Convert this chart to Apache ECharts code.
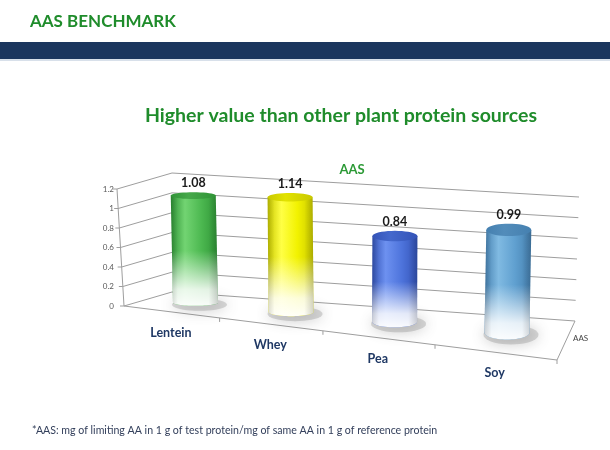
<!DOCTYPE html>
<html>
<head>
<meta charset="utf-8">
<title>AAS Benchmark</title>
<script src="https://cdn.jsdelivr.net/npm/echarts@6/dist/echarts.min.js"></script>
<style>
html,body{margin:0;padding:0;background:#fff;}
#main{width:610px;height:450px;}
</style>
</head>
<body>
<div id="main"></div>
<script>
var categories = ['Lentein', 'Whey', 'Pea', 'Soy'];
var aasValues = [1.08, 1.14, 0.84, 0.99];
var yTicks = [0, 0.2, 0.4, 0.6, 0.8, 1, 1.2];
var seriesName = 'AAS';

var barColors = [
    {edge: '#2f9436', light: '#72d472', mid: '#4cb850', top: '#46a84a'},
    {edge: '#c9c900', light: '#ffff45', mid: '#f2f200', top: '#e2e200'},
    {edge: '#3454b8', light: '#6d91f0', mid: '#4e74dc', top: '#4468cc'},
    {edge: '#4580b0', light: '#80bae2', mid: '#60a0d0', top: '#528cba'}
];
var green = '#1f8c2b';
var gridColor = '#9e9e9e';

// corners of the 3d box on screen (front/back, left/right, bottom/top)
var box = {
    flb: [124, 306], flt: [117, 189], frb: [557, 360], frt: [559, 232],
    blb: [172, 292], blt: [172, 173], brb: [575, 321], brt: [579, 197]
};
var warp = 0.85;      // perspective squeeze along the category direction
var barDepth = 0.55;
var barHalfDepth = 0.19;
var barRadius = 22.5;

function mix(p, q, t) {
    return [p[0] + (q[0] - p[0]) * t, p[1] + (q[1] - p[1]) * t];
}
function proj(u, v, d) {
    var w = u * warp / (1 + (warp - 1) * u);
    var front = mix(mix(box.flb, box.frb, w), mix(box.flt, box.frt, w), v);
    var back = mix(mix(box.blb, box.brb, w), mix(box.blt, box.brt, w), v);
    return mix(front, back, d);
}
function arcPts(cx, cy, rx, ry, a0, a1, n) {
    var pts = [];
    for (var k = 0; k <= n; k++) {
        var a = a0 + (a1 - a0) * k / n;
        pts.push([cx + rx * Math.cos(a), cy + ry * Math.sin(a)]);
    }
    return pts;
}
function normU(cs, px) { return (px - cs.x) / cs.width; }
function normV(cs, py) { return (cs.y + cs.height - py) / cs.height; }

function renderFrame(params, api) {
    var cs = params.coordSys;
    var v = normV(cs, api.coord([0, api.value(1)])[1]);
    var a = proj(0, v, 0), b = proj(0, v, 1), c = proj(1, v, 1);
    var line = {stroke: gridColor, lineWidth: 1, fill: 'none'};
    var children = [
        {type: 'polyline', shape: {points: [a, b, c]}, style: line},
        {type: 'line', shape: {x1: a[0] - 4, y1: a[1], x2: a[0], y2: a[1]}, style: line}
    ];
    if (params.dataIndex === 0) {
        var fl = proj(0, 0, 0), fr = proj(1, 0, 0), br = proj(1, 0, 1), tl = proj(0, 1, 0);
        children.push({type: 'polyline', shape: {points: [tl, fl, fr, br]}, style: line});
        for (var k = 1; k <= categories.length; k++) {
            var p = proj(k / categories.length, 0, 0);
            children.push({type: 'line', shape: {x1: p[0], y1: p[1], x2: p[0], y2: p[1] + 4}, style: line});
        }
        var m = mix(fr, br, 0.5);
        children.push({type: 'text', x: m[0] + 7, y: m[1] - 2, style: {
            text: seriesName, fontSize: 8, fontFamily: 'Lato', fill: '#444',
            align: 'left', verticalAlign: 'middle'
        }});
        for (var i = 0; i < categories.length; i++) {
            var q = proj(normU(cs, api.coord([i, 0])[0]), 0, 0);
            children.push({type: 'text', x: q[0], y: q[1] + 21, style: {
                text: categories[i], font: 'bold 12.5px Lato, sans-serif',
                fill: '#1f3864', align: 'center', verticalAlign: 'middle'
            }});
        }
    }
    return {type: 'group', children: children};
}

function renderBar(params, api) {
    var cs = params.coordSys;
    var i = api.value(0);
    var val = api.value(1);
    var u = normU(cs, api.coord([i, 0])[0]);
    var v = normV(cs, api.coord([i, val])[1]);
    var col = barColors[i];
    var pb = proj(u, 0, barDepth), pt = proj(u, v, barDepth);
    var ryb = (proj(u, 0, barDepth - barHalfDepth)[1] - proj(u, 0, barDepth + barHalfDepth)[1]) / 2;
    var ryt = (proj(u, v, barDepth - barHalfDepth)[1] - proj(u, v, barDepth + barHalfDepth)[1]) / 2;
    var r = barRadius;

    var body = [[pt[0] - r, pt[1]]].concat(arcPts(pb[0], pb[1], r, ryb, Math.PI, 0, 30), [[pt[0] + r, pt[1]]]);
    var topEl = arcPts(pt[0], pt[1], r, ryt, 0, Math.PI * 2, 40);
    var shadow = arcPts(pb[0] + 4, pb[1] + 2, r + 5, ryb + 3, 0, Math.PI * 2, 40);

    return {
        type: 'group',
        children: [
            {type: 'polygon', shape: {points: shadow}, style: {
                fill: 'rgba(130,130,130,0.3)', shadowBlur: 14, shadowColor: 'rgba(90,90,90,1)'
            }},
            {type: 'polygon', shape: {points: body}, style: {
                fill: {type: 'linear', x: 0, y: 0, x2: 1, y2: 0, colorStops: [
                    {offset: 0, color: col.edge}, {offset: 0.3, color: col.light},
                    {offset: 0.65, color: col.mid}, {offset: 1, color: col.edge}
                ]}
            }},
            {type: 'polygon', shape: {points: body}, style: {
                fill: {type: 'linear', x: 0, y: 0, x2: 0, y2: 1, colorStops: [
                    {offset: 0, color: 'rgba(255,255,255,0)'}, {offset: 0.5, color: 'rgba(255,255,255,0)'},
                    {offset: 0.85, color: 'rgba(255,255,255,0.85)'}, {offset: 1, color: 'rgba(255,255,255,0.97)'}
                ]}
            }},
            {type: 'polygon', shape: {points: body}, style: {
                fill: {type: 'linear', x: 0, y: 0, x2: 1, y2: 0, colorStops: [
                    {offset: 0, color: 'rgba(0,0,0,0.14)'}, {offset: 0.15, color: 'rgba(0,0,0,0)'},
                    {offset: 0.8, color: 'rgba(0,0,0,0)'}, {offset: 1, color: 'rgba(0,0,0,0.16)'}
                ]}
            }},
            {type: 'polygon', shape: {points: topEl}, style: {
                fill: {type: 'linear', x: 0, y: 0, x2: 1, y2: 0, colorStops: [
                    {offset: 0, color: col.edge}, {offset: 0.4, color: col.top}, {offset: 1, color: col.edge}
                ]}
            }},
            {type: 'text', x: pt[0], y: pt[1] - ryt - 9, style: {
                text: String(val), font: 'bold 12.5px Lato, sans-serif',
                fill: '#1a1a1a', align: 'center', verticalAlign: 'middle'
            }}
        ]
    };
}

var dom = document.getElementById('main');
var myChart = echarts.init(dom);
var option = null;

var frameData = [];
for (var k = 0; k < yTicks.length; k++) {
    frameData.push([0, yTicks[k]]);
}
var barData = [];
for (var j = 0; j < aasValues.length; j++) {
    barData.push([j, aasValues[j]]);
}

option = {
    backgroundColor: '#fff',
    animation: false,
    graphic: [
        {type: 'rect', left: 0, top: 42, shape: {width: 610, height: 17}, style: {fill: '#1b365e'}},
        {type: 'rect', left: 0, top: 59, shape: {width: 610, height: 2}, style: {fill: '#d8e0ea'}},
        {type: 'text', x: 30, y: 22, style: {
            text: 'AAS BENCHMARK', font: 'bold 17px Lato, sans-serif', fill: green, verticalAlign: 'middle'
        }},
        {type: 'text', x: 341, y: 116, style: {
            text: 'Higher value than other plant protein sources', font: 'bold 19.5px Lato, sans-serif',
            fill: green, align: 'center', verticalAlign: 'middle'
        }},
        {type: 'text', x: 352, y: 170, style: {
            text: seriesName, font: 'bold 13px Lato, sans-serif', fill: '#2c9a36',
            align: 'center', verticalAlign: 'middle'
        }},
        {type: 'text', x: 32, y: 431, style: {
            text: '*AAS: mg of limiting AA in 1 g of test protein/mg of same AA in 1 g of reference protein',
            font: '10.6px Lato, sans-serif', fill: '#34405c', verticalAlign: 'middle'
        }}
    ],
    grid: {left: 121, right: 53, top: 189, bottom: 144, containLabel: false},
    xAxis: {type: 'category', data: categories, show: false},
    yAxis: {
        type: 'value', min: 0, max: 1.2, interval: 0.2,
        axisLine: {show: false}, axisTick: {show: false}, splitLine: {show: false},
        axisLabel: {fontSize: 8, color: '#595959', margin: 7, fontFamily: 'Lato'}
    },
    series: [
        {type: 'custom', name: 'frame', renderItem: renderFrame, data: frameData, clip: false, z: 1, silent: true},
        {type: 'custom', name: seriesName, renderItem: renderBar, data: barData, clip: false, z: 2}
    ]
};

if (option && typeof option === 'object') {
    myChart.setOption(option, true);
}
</script>
</body>
</html>
